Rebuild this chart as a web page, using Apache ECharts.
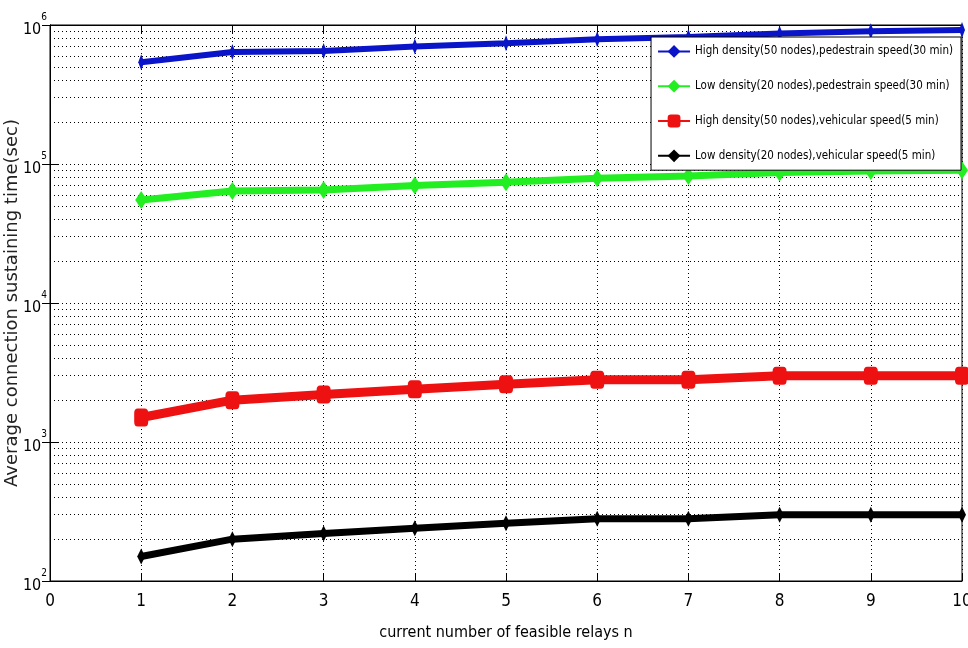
<!DOCTYPE html>
<html><head><meta charset="utf-8">
<script src="https://cdn.jsdelivr.net/npm/echarts@6/dist/echarts.min.js"></script>
<style>html,body{margin:0;padding:0;background:#fff}#c{width:968px;height:648px}</style>
</head><body><div id="c"></div>
<script>
var xValues = [1,2,3,4,5,6,7,8,9,10];
var highPed = [540000,640000,650000,700000,740000,790000,820000,870000,900000,920000];
var lowPed = [55000,64000,65000,70000,74000,79000,82000,87000,89000,90000];
var highVeh = [1500,2000,2200,2400,2600,2800,2800,3000,3000,3000];
var lowVeh = [150,200,220,240,260,280,280,300,300,300];
var seriesNames = ['High density(50 nodes),pedestrain speed(30 min)','Low density(20 nodes),pedestrain speed(30 min)','High density(50 nodes),vehicular speed(5 min)','Low density(20 nodes),vehicular speed(5 min)'];
var minorGridValues = [200,300,400,500,600,700,800,900,2000,3000,4000,5000,6000,7000,8000,9000,20000,30000,40000,50000,60000,70000,80000,90000,200000,300000,400000,500000,600000,700000,800000,900000,1000,10000,100000];
var xTitle = 'current number of feasible relays n';
var yTitle = 'Average connection sustaining time(sec)';

var NARROW = '"Liberation Sans Narrow","DejaVu Sans Condensed","Liberation Sans",sans-serif';
function pairs(v){ return v.map(function(y,i){return [xValues[i], y];}); }
var chart = echarts.init(document.getElementById('c'));
var colors = ['#0a14c8','#22ee22','#ee1111','#000000'];
var widths = [6,7,9,7];
var syms = ['diamond','diamond','roundRect','diamond'];
var symSizes = [[6,16],[12,18],[14,18],[8,16]];
var data = [highPed, lowPed, highVeh, lowVeh];
var series = data.map(function(d,i){
  return {name: seriesNames[i], type:'line', data: pairs(d), symbol: syms[i], symbolSize: symSizes[i],
    itemStyle:{color:colors[i]}, lineStyle:{color:colors[i], width:widths[i]}, z: 5+i, animation:false};
});
series.push({type:'line', data:[], silent:true, animation:false, z:1,
  markLine:{silent:true, symbol:'none', label:{show:false}, animation:false,
    lineStyle:{type:[1,3], color:'#000', width:1},
    data: minorGridValues.map(function(v){return {yAxis:v};})}});
var tickStyle = {show:true, inside:true, length:8, lineStyle:{color:'#000'}};
chart.setOption({
  backgroundColor:'#fff',
  animation:false,
  grid:{left:50, right:6, top:25, bottom:67, show:true, borderColor:'#000', borderWidth:1, outerBoundsMode:'none', containLabel:false},
  legend:{orient:'vertical', right:7, top:37, backgroundColor:'#fff', borderColor:'#000', borderWidth:1,
    padding:[8,8,8,6], itemGap:22, itemWidth:32, itemHeight:16, z:50,
    data: seriesNames,
    textStyle:{fontFamily:NARROW, fontSize:11.5, color:'#000'}},
  xAxis:[{type:'value', min:0, max:10, interval:1,
    name:xTitle, nameLocation:'middle', nameGap:44,
    nameTextStyle:{fontFamily:NARROW, fontSize:16, color:'#000'},
    axisLine:{show:true, onZero:false, lineStyle:{color:'#000'}},
    axisTick:tickStyle,
    axisLabel:{fontFamily:NARROW, fontSize:17, color:'#000', margin:12},
    splitLine:{show:true, lineStyle:{type:[1,3], color:'#000'}}},
   {type:'value', position:'top', min:0, max:10, interval:1,
    axisLine:{show:true, onZero:false, lineStyle:{color:'#000'}},
    axisTick:tickStyle, axisLabel:{show:false}, splitLine:{show:false}}],
  yAxis:[{type:'log', logBase:10, min:100, max:1000000,
    name:yTitle, nameLocation:'middle', nameGap:29, nameMoveOverlap:false,
    nameTextStyle:{fontFamily:'"DejaVu Sans",sans-serif', fontSize:18, color:'#222'},
    axisLine:{show:true, lineStyle:{color:'#000'}},
    axisTick:tickStyle,
    splitLine:{show:false},
    axisLabel:{margin:3, color:'#000',
      formatter:function(v){ var e=Math.round(Math.log10(v)); return '{b|10}{s|'+e+'}'; },
      rich:{b:{fontFamily:NARROW, fontSize:16, color:'#000', padding:[10,0,0,0]}, s:{fontFamily:NARROW, fontSize:10, color:'#000', verticalAlign:'top', padding:[0,0,8,0]}}}},
   {type:'log', logBase:10, min:100, max:1000000, position:'right',
    axisLine:{show:true, lineStyle:{color:'#000'}},
    axisTick:tickStyle, axisLabel:{show:false}, splitLine:{show:false}}],
  series: series
});
</script></body></html>
